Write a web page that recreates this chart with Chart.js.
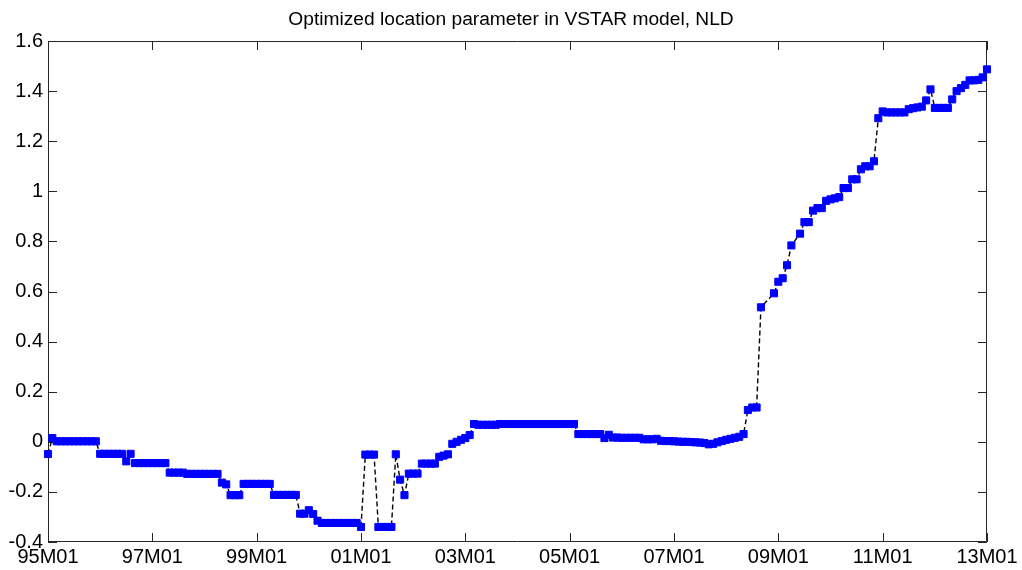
<!DOCTYPE html>
<html>
<head>
<meta charset="utf-8">
<title>Optimized location parameter in VSTAR model, NLD</title>
<script src="https://cdn.jsdelivr.net/npm/chart.js@4.4.1/dist/chart.umd.min.js"></script>
<style>
    body { margin: 0; background: #fff; }
    canvas { display: block; }
</style>
</head>
<body>
<canvas id="vstar-chart" width="1022" height="570"></canvas>
<script>
// x tick labels, one every 24 months starting at 95M01
const xTickLabels = ['95M01', '97M01', '99M01', '01M01', '03M01', '05M01', '07M01', '09M01', '11M01', '13M01'];
const yTickValues = [-0.4, -0.2, 0, 0.2, 0.4, 0.6, 0.8, 1, 1.2, 1.4, 1.6];

// monthly values, index 0 = 95M01 (null = no observation)
const values1995 = [-0.049, 0.015, 0.002, 0.002, 0.002, 0.002, 0.002, 0.002, 0.002, 0.002, 0.002, 0.002];
const values1996 = [-0.048, -0.048, -0.048, -0.048, -0.048, -0.048, -0.078, -0.048, -0.085, -0.085, -0.085, -0.085];
const values1997 = [-0.085, -0.085, -0.085, -0.085, -0.123, -0.123, -0.123, -0.123, -0.128, -0.128, -0.128, -0.128];
const values1998 = [-0.128, -0.128, -0.128, -0.128, -0.163, -0.170, -0.213, -0.213, -0.213, -0.168, -0.168, -0.168];
const values1999 = [-0.168, -0.168, -0.168, -0.168, -0.212, -0.212, -0.212, -0.212, -0.212, -0.212, -0.287, -0.287];
const values2000 = [-0.273, -0.288, -0.315, -0.324, -0.324, -0.324, -0.324, -0.324, -0.324, -0.324, -0.324, -0.324];
const values2001 = [-0.340, -0.051, -0.051, -0.051, -0.340, -0.340, -0.340, -0.340, -0.050, -0.151, -0.213, -0.127];
const values2002 = [-0.127, -0.127, -0.087, -0.087, -0.087, -0.087, -0.060, -0.055, -0.050, -0.008, 0.000, 0.008];
const values2003 = [0.015, 0.027, 0.071, 0.068, 0.068, 0.068, 0.068, 0.068, 0.071, 0.071, 0.071, 0.071];
const values2004 = [0.071, 0.071, 0.071, 0.071, 0.071, 0.071, 0.071, 0.071, 0.071, 0.071, 0.071, 0.071];
const values2005 = [0.071, 0.071, 0.031, 0.031, 0.031, 0.031, 0.031, 0.031, 0.015, 0.028, 0.017, 0.017];
const values2006 = [0.016, 0.016, 0.016, 0.016, 0.016, 0.010, 0.010, 0.010, 0.012, 0.004, 0.003, 0.003];
const values2007 = [0.002, 0.001, 0.000, 0.000, -0.001, -0.002, -0.003, -0.005, -0.010, -0.008, -0.002, 0.003];
const values2008 = [0.008, 0.012, 0.016, 0.020, 0.031, 0.127, 0.137, 0.137, 0.537, null, null, 0.593];
const values2009 = [0.639, 0.653, 0.705, 0.784, null, 0.831, 0.877, 0.877, 0.923, 0.933, 0.933, 0.962];
const values2010 = [0.968, 0.972, 0.977, 1.013, 1.013, 1.048, 1.048, 1.088, 1.100, 1.100, 1.120, 1.292];
const values2011 = [1.319, 1.315, 1.315, 1.315, 1.315, 1.315, 1.328, 1.332, 1.335, 1.338, 1.363, 1.407];
const values2012 = [1.333, 1.333, 1.333, 1.333, 1.367, 1.400, 1.412, 1.425, 1.443, 1.443, 1.445, 1.455];
const values2013 = [1.487];

const values = [].concat(values1995, values1996, values1997, values1998, values1999, values2000,
    values2001, values2002, values2003, values2004, values2005, values2006, values2007,
    values2008, values2009, values2010, values2011, values2012, values2013);

// drop the missing months, the dashed line just joins the neighbours
const points = values
    .map((v, i) => ({ x: i, y: v }))
    .filter(p => p.y !== null);

const FONT = "'Liberation Sans', Arial, Helvetica, sans-serif";

// matlab style box with inward ticks on all four sides
const axesBox = {
    id: 'axesBox',
    beforeDatasetsDraw(chart) {
        const { ctx, chartArea: a, scales } = chart;
        const tick = 9;
        ctx.save();
        ctx.strokeStyle = '#262626';
        ctx.lineWidth = 1;
        ctx.beginPath();
        ctx.rect(a.left + 0.5, a.top + 0.5, a.right - a.left - 1, a.bottom - a.top - 1);
        scales.y.ticks.forEach(t => {
            const py = Math.round(scales.y.getPixelForValue(t.value)) + 0.5;
            ctx.moveTo(a.left, py);
            ctx.lineTo(a.left + tick, py);
            ctx.moveTo(a.right, py);
            ctx.lineTo(a.right - tick, py);
        });
        scales.x.ticks.forEach(t => {
            const px = Math.round(scales.x.getPixelForValue(t.value)) + 0.5;
            ctx.moveTo(px, a.bottom);
            ctx.lineTo(px, a.bottom - tick);
            ctx.moveTo(px, a.top);
            ctx.lineTo(px, a.top + tick);
        });
        ctx.stroke();
        ctx.restore();
    }
};

const ctx = document.getElementById('vstar-chart').getContext('2d');
const myChart = new Chart(ctx, {
    type: 'line',
    data: {
        datasets: [{
            data: points,
            borderColor: '#000000',
            borderWidth: 1.4,
            borderDash: [5, 3],
            tension: 0,
            spanGaps: true,
            clip: false,
            pointStyle: 'rect',
            pointRadius: 5,
            pointBorderWidth: 1,
            pointBackgroundColor: '#0000ff',
            pointBorderColor: '#0000ff'
        }]
    },
    options: {
        responsive: false,
        animation: false,
        events: [],
        layout: {
            padding: 0
        },
        plugins: {
            legend: { display: false },
            tooltip: { enabled: false },
            title: {
                display: true,
                text: 'Optimized location parameter in VSTAR model, NLD',
                color: '#000',
                font: { family: FONT, size: 19.2, weight: 'normal' },
                padding: { top: 8, bottom: 10 }
            }
        },
        scales: {
            x: {
                type: 'linear',
                min: 0,
                max: 216,
                grid: { display: false, drawTicks: false },
                border: { display: false },
                ticks: {
                    stepSize: 24,
                    autoSkip: false,
                    maxRotation: 0,
                    padding: 3,
                    color: '#000',
                    font: { family: FONT, size: 20 },
                    callback: (v) => xTickLabels[Math.round(v / 24)]
                },
                afterFit(scale) { scale.height = 28; }
            },
            y: {
                min: -0.4,
                max: 1.6,
                grid: { display: false, drawTicks: false },
                border: { display: false },
                afterBuildTicks(scale) {
                    scale.ticks = yTickValues.map(v => ({ value: v }));
                },
                ticks: {
                    padding: 5,
                    color: '#000',
                    font: { family: FONT, size: 20 },
                    callback: (v) => String(parseFloat(v.toFixed(1)))
                },
                afterFit(scale) { scale.width = 48; }
            },
            // empty right axis, only reserves the right margin so the title stays centred on the page
            yRight: {
                position: 'right',
                min: -0.4,
                max: 1.6,
                grid: { display: false, drawTicks: false },
                border: { display: false },
                ticks: { display: false },
                afterFit(scale) { scale.width = 35; }
            }
        }
    },
    plugins: [axesBox]
});
</script>
</body>
</html>
